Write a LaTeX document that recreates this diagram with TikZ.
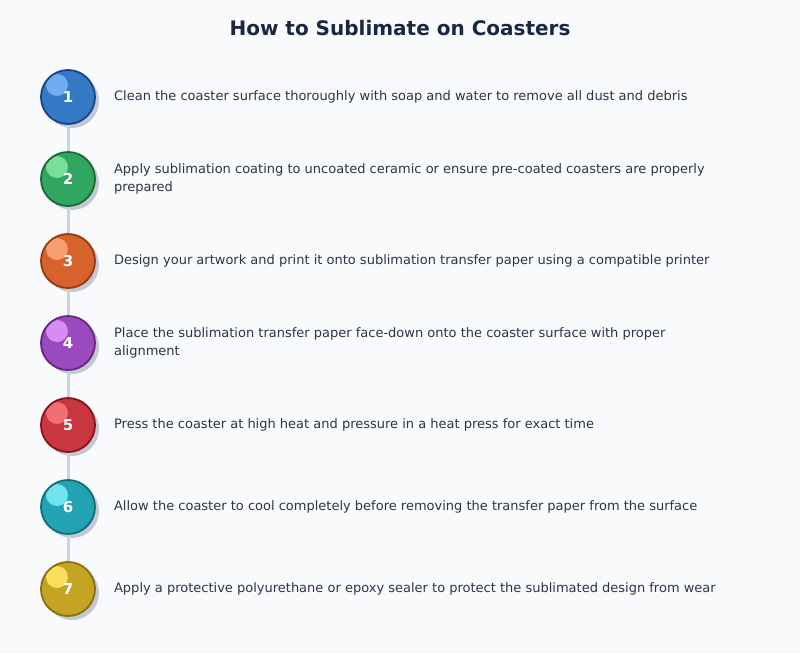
\documentclass[tikz,border=0pt]{standalone}
\usepackage{fontspec}
\setmainfont{DejaVu Sans}
\usepackage{tikz}
\usetikzlibrary{positioning}
\usetikzlibrary{shadows}

\definecolor{pagebg}{HTML}{F8FAFC}
\definecolor{titlecol}{HTML}{1A2744}
\definecolor{bodycol}{HTML}{2D3446}
\definecolor{linkcol}{HTML}{CBD3DF}
\definecolor{shadecol}{HTML}{C4C8D4}

\definecolor{bluestep}{RGB}{53,120,196}
\definecolor{bluestepdark}{RGB}{24,68,138}
\definecolor{bluesteplight}{RGB}{112,172,240}
\definecolor{greenstep}{RGB}{48,166,96}
\definecolor{greenstepdark}{RGB}{22,108,52}
\definecolor{greensteplight}{RGB}{122,222,152}
\definecolor{orangestep}{RGB}{214,98,44}
\definecolor{orangestepdark}{RGB}{150,58,20}
\definecolor{orangesteplight}{RGB}{246,160,112}
\definecolor{purplestep}{RGB}{155,74,190}
\definecolor{purplestepdark}{RGB}{100,38,130}
\definecolor{purplesteplight}{RGB}{216,140,242}
\definecolor{redstep}{RGB}{200,54,64}
\definecolor{redstepdark}{RGB}{130,20,30}
\definecolor{redsteplight}{RGB}{240,110,116}
\definecolor{tealstep}{RGB}{34,163,180}
\definecolor{tealstepdark}{RGB}{18,108,122}
\definecolor{tealsteplight}{RGB}{112,226,240}
\definecolor{goldstep}{RGB}{196,164,34}
\definecolor{goldstepdark}{RGB}{138,112,14}
\definecolor{goldsteplight}{RGB}{250,222,92}

\tikzset{
  stepball/.style={circle, minimum size=54pt, inner sep=0pt, line width=1.8pt,
    fill=#1step, draw=#1stepdark, text=white,
    font=\fontsize{15}{18}\selectfont\bfseries,
    general shadow={shadow xshift=4pt, shadow yshift=-4pt, fill=shadecol},
    path picture={\fill[#1steplight] ([xshift=-11pt,yshift=12pt]path picture bounding box.center) circle (11pt);}},
  steptext/.style={inner sep=0pt, anchor=west, align=left, text=bodycol,
    font=\fontsize{13}{18}\selectfont},
  link/.style={draw=linkcol, line width=3pt}
}

\begin{document}
\begin{tikzpicture}[x=1pt,y=1pt]
\fill[pagebg] (0,0) rectangle (800,-654);
\useasboundingbox (0,0) rectangle (800,-654);

\node[text=titlecol, font=\fontsize{20}{24}\selectfont\bfseries] (title) at (400,-28) {How to Sublimate on Coasters};

\node[stepball=blue] (s1) at (68,-97) {1};
\node[stepball=green] (s2) at (68,-179) {2};
\node[stepball=orange] (s3) at (68,-261) {3};
\node[stepball=purple] (s4) at (68,-343) {4};
\node[stepball=red] (s5) at (68,-425) {5};
\node[stepball=teal] (s6) at (68,-507) {6};
\node[stepball=gold] (s7) at (68,-589) {7};

% links between the balls
\draw[link] (s1) -- (s2);
\draw[link] (s2) -- (s3);
\draw[link] (s3) -- (s4);
\draw[link] (s4) -- (s5);
\draw[link] (s5) -- (s6);
\draw[link] (s6) -- (s7);

\node[steptext, right=18pt of s1] (t1) {Clean the coaster surface thoroughly with soap and water to remove all dust and debris};
\node[steptext, right=18pt of s2] (t2) {Apply sublimation coating to uncoated ceramic or ensure pre-coated coasters are properly\\prepared};
\node[steptext, right=18pt of s3] (t3) {Design your artwork and print it onto sublimation transfer paper using a compatible printer};
\node[steptext, right=18pt of s4] (t4) {Place the sublimation transfer paper face-down onto the coaster surface with proper\\alignment};
\node[steptext, right=18pt of s5] (t5) {Press the coaster at high heat and pressure in a heat press for exact time};
\node[steptext, right=18pt of s6] (t6) {Allow the coaster to cool completely before removing the transfer paper from the surface};
\node[steptext, right=18pt of s7] (t7) {Apply a protective polyurethane or epoxy sealer to protect the sublimated design from wear};
\end{tikzpicture}
\end{document}
